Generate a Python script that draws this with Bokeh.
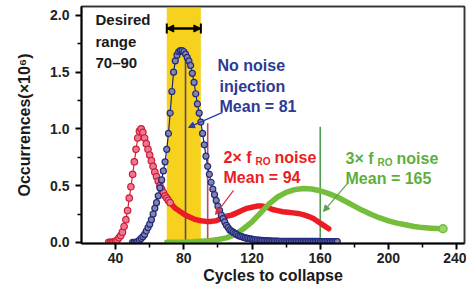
from bokeh.plotting import figure
from bokeh.models import (Range1d, FixedTicker, Label, Arrow, NormalHead, TeeHead,
                          BoxAnnotation, NumeralTickFormatter, LinearAxis)
from bokeh.embed import file_html
from bokeh.resources import INLINE

# ---------------- data ----------------
blue_x = list(range(50, 171))
blue_y = [0, 0, 0, 0.01, 0.02, 0.035, 0.05, 0.07, 0.1, 0.13,
          0.16, 0.2, 0.25, 0.3, 0.35, 0.41, 0.48, 0.55, 0.63, 0.71,
          0.82, 0.96, 1.14, 1.33, 1.5, 1.6, 1.65, 1.68, 1.69, 1.69,
          1.68, 1.66, 1.63, 1.6, 1.56, 1.49, 1.41, 1.31, 1.22, 1.14,
          1.06, 0.96, 0.86, 0.76, 0.67, 0.6, 0.53, 0.47, 0.42, 0.37,
          0.32, 0.28, 0.24, 0.21, 0.18, 0.15, 0.13, 0.11, 0.1, 0.09,
          0.08, 0.07, 0.06, 0.055, 0.05, 0.045, 0.04, 0.037, 0.034, 0.031,
          0.028, 0.025, 0.023, 0.021, 0.02, 0.018, 0.017, 0.016, 0.015, 0.014,
          0.013, 0.013, 0.012, 0.012, 0.011, 0.011, 0.01, 0.01, 0.01, 0.01,
          0.009, 0.009, 0.009, 0.009, 0.009, 0.009, 0.009, 0.009, 0.009, 0.009,
          0.008, 0.008, 0.008, 0.008, 0.008, 0.008, 0.008, 0.008, 0.008, 0.008,
          0.007, 0.007, 0.007, 0.007, 0.007, 0.007, 0.007, 0.007, 0.007, 0.007, 0.007]

red_marker_x = list(range(36, 73))
red_marker_y = [0, 0, 0, 0.005, 0.01, 0.02, 0.04, 0.06, 0.09, 0.14,
                0.2, 0.28, 0.39, 0.49, 0.6, 0.71, 0.82, 0.92, 0.98, 1.0,
                0.97, 0.92, 0.87, 0.82, 0.77, 0.72, 0.67, 0.62, 0.58, 0.54,
                0.5, 0.47, 0.44, 0.41, 0.39, 0.37, 0.35]

red_line_x = [70, 72, 75, 78, 81, 84, 87, 90, 93, 96, 99, 102, 105, 108, 111, 114, 117,
              120, 123, 126, 129, 132, 135, 138, 141, 144, 147, 150, 153, 156, 159, 162, 165]
red_line_y = [0.39, 0.35, 0.3, 0.27, 0.24, 0.22, 0.2, 0.19, 0.185, 0.185, 0.19, 0.21, 0.23,
              0.24, 0.26, 0.28, 0.3, 0.31, 0.32, 0.32, 0.31, 0.29, 0.28, 0.27, 0.265, 0.26,
              0.255, 0.245, 0.23, 0.21, 0.18, 0.15, 0.12]

green_x = [70, 75, 80, 85, 90, 95, 100, 105, 110, 115, 120, 125, 130, 135, 140, 145, 150,
           155, 160, 165, 170, 175, 180, 185, 190, 195, 200, 205, 210, 215, 220, 225, 232]
green_y = [0, 0, 0.002, 0.005, 0.01, 0.015, 0.025, 0.04, 0.07, 0.12, 0.18, 0.26, 0.34, 0.4,
           0.44, 0.465, 0.475, 0.47, 0.455, 0.43, 0.4, 0.36, 0.32, 0.28, 0.245, 0.215, 0.19,
           0.17, 0.155, 0.14, 0.13, 0.125, 0.12]

mean_x = [81, 94, 160]
mean_top = [1.63, 1.05, 1.02]
band_lo, band_hi = 70, 90

x_ticks = [40, 80, 120, 160, 200, 240]
x_minor = [60, 100, 140, 180, 220]
y_ticks = [0, 0.5, 1.0, 1.5, 2.0]
y_minor = [0.25, 0.75, 1.25, 1.75]

# ---------------- styling ----------------
BLUE_TXT = "#2e3a94"
RED = "#ec1c24"
GREEN = "#74be3c"
GREEN_TXT = "#5fae3c"
FONT = "Liberation Sans"

X0, XPX = 20, 1.705      # layout helpers (reference px -> data) for annotation placement
YPX = 113.5


def px2x(px):
    return X0 + (px - 81) / XPX


def py2y(py):
    return (242 - py) / YPX


p = figure(width=466, height=286, output_backend="svg", toolbar_location=None,
           x_range=Range1d(20, 244.6), y_range=Range1d(-0.01, 2.079),
           min_border_left=81, min_border_right=2, min_border_top=6, min_border_bottom=43)
p.xgrid.visible = False
p.ygrid.visible = False
p.outline_line_color = "#222222"
p.outline_line_width = 1.5
p.background_fill_color = "white"

xax = p.below[0]
yax = p.left[0]

# frame border on top and right
for side in ("above", "right"):
    bax = LinearAxis(ticker=FixedTicker(ticks=[]), axis_line_color="#333333",
                     axis_line_width=1.5, major_tick_out=0, major_tick_in=0,
                     minor_tick_out=0, minor_tick_in=0,
                     major_label_text_font_size="0px", axis_label=None)
    p.add_layout(bax, side)

# band
p.add_layout(BoxAnnotation(left=band_lo, right=band_hi, fill_color="#f6d21e", fill_alpha=1.0,
                           line_color=None, level="underlay"))

# mean lines
mean_colors = ["#5b4a55", "#c0485a", "#4f9e4f"]
p.segment(x0=mean_x, y0=[0, 0, 0], x1=mean_x, y1=mean_top, line_color=mean_colors, line_width=1.6)

# red thick line
p.line(red_line_x, red_line_y, line_color=RED, line_width=5.5, line_cap="round", line_join="round")
# red markers
p.line(red_marker_x, red_marker_y, line_color="#d8203a", line_width=1.2)
p.scatter(red_marker_x, red_marker_y, marker="circle", size=6.5, fill_color="#ea7892",
          line_color="#d01c34", line_width=1.2)

# green
p.line(green_x, green_y, line_color=GREEN, line_width=5.5, line_cap="round", line_join="round")
p.scatter(green_x[-1:], green_y[-1:], marker="circle", size=8, fill_color="#9ad46a",
          line_color=GREEN, line_width=1.5)

# blue markers
p.line(blue_x, blue_y, line_color="#1c2478", line_width=1.2)
p.scatter(blue_x, blue_y, marker="circle", size=6, fill_color="#8486a8",
          line_color="#222a80", line_width=1.2)

# desired range arrow
p.add_layout(Arrow(x_start=band_lo, y_start=1.885, x_end=band_hi, y_end=1.885,
                   start=NormalHead(size=7, fill_color="black", line_color="black"),
                   end=NormalHead(size=7, fill_color="black", line_color="black"),
                   line_color="black", line_width=2))
p.add_layout(Arrow(x_start=band_lo, y_start=1.885, x_end=band_hi, y_end=1.885,
                   start=TeeHead(size=10, line_color="black", line_width=2),
                   end=TeeHead(size=10, line_color="black", line_width=2),
                   line_color="black", line_width=2))

# annotation arrows
def arrow(x0, y0, x1, y1, color):
    p.add_layout(Arrow(x_start=px2x(x0), y_start=py2y(y0), x_end=px2x(x1), y_end=py2y(y1),
                       end=NormalHead(size=6, fill_color=color, line_color=color),
                       line_color=color, line_width=1.2))


arrow(222, 112, 188, 127, "#2a3aa8")
arrow(233, 190, 215, 214, "#d03048")
arrow(347, 183, 323, 211, "#5aa04a")


def label(text, px, py, color, size=16, bold=True):
    p.add_layout(Label(x=px2x(px), y=py2y(py), text=text, text_color=color,
                       text_font=FONT, text_font_size=f"{size}px",
                       text_font_style="bold" if bold else "normal",
                       text_align="left", text_baseline="top"))


label("Desired", 95, 11, "#1a1a1a", 15)
label("range", 95, 33, "#1a1a1a", 15)
label("70\u201390", 95, 54, "#1a1a1a", 15)

label("No noise", 217, 57, BLUE_TXT)
label("injection", 219, 78, BLUE_TXT)
label("Mean = 81", 219, 98, BLUE_TXT)

# 2x f_RO noise
label("2\u00d7 f", 223, 149, RED)
label("RO", 255, 156, RED, 10)
label("noise", 274, 149, RED)
label("Mean = 94", 223, 169, RED)

label("3\u00d7 f", 345, 150, GREEN_TXT)
label("RO", 377, 157, GREEN_TXT, 10)
label("noise", 396, 150, GREEN_TXT)
label("Mean = 165", 345, 170, GREEN_TXT)

# axes
xax.ticker = FixedTicker(ticks=x_ticks, minor_ticks=x_minor)
yax.ticker = FixedTicker(ticks=y_ticks, minor_ticks=y_minor)
yax.formatter = NumeralTickFormatter(format="0.0")
for ax in (xax, yax):
    ax.axis_line_width = 2
    ax.axis_line_color = "black"
    ax.major_tick_line_width = 2
    ax.major_tick_line_color = "black"
    ax.major_tick_out = 6
    ax.major_tick_in = 0
    ax.minor_tick_line_width = 1.5
    ax.minor_tick_line_color = "black"
    ax.minor_tick_out = 4
    ax.minor_tick_in = 0
    ax.major_label_text_font = FONT
    ax.major_label_text_font_style = "bold"
    ax.major_label_text_font_size = "14px"
    ax.major_label_text_color = "#222222"
    ax.axis_label_text_font = FONT
    ax.axis_label_text_font_style = "bold"
    ax.axis_label_text_font_size = "16px"
    ax.axis_label_text_color = "#1a1a1a"

xax.axis_label = "Cycles to collapse"
yax.axis_label = "Occurrences(\u00d710\u2076)"
xax.major_label_standoff = 3
xax.axis_label_standoff = 1
yax.major_label_standoff = 6
yax.axis_label_standoff = 14

open("out.html", "w").write(file_html(p, INLINE))
